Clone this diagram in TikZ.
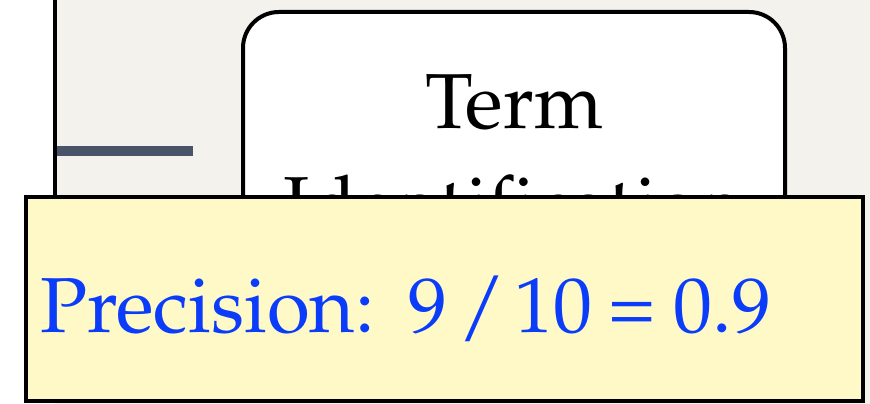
\documentclass[tikz,border=0pt]{standalone}
\usepackage[T1]{fontenc}
\usepackage{xcolor}
\usepackage{mathpazo}
\usepackage{tikz}
\usetikzlibrary{positioning}

\definecolor{paperGray}{HTML}{F4F2ED}
\definecolor{slateBar}{HTML}{4A5468}
\definecolor{noteYellow}{HTML}{FEF9C6}
\definecolor{scoreBlue}{HTML}{0B3CFA}

\begin{document}
\begin{tikzpicture}[
    x=1pt,
    y=-1pt,
    font=\fontsize{78}{103}\selectfont,
    process/.style={
        draw,
        rounded corners=36pt,
        line width=4pt,
        fill=white,
        minimum width=542pt,
        align=center,
        inner xsep=0pt,
        inner ysep=0pt,
        outer sep=0pt
    },
    note/.style={
        draw,
        line width=4pt,
        fill=noteYellow,
        text=scoreBlue,
        minimum width=837pt,
        text width=809pt,
        align=left,
        inner xsep=14pt,
        inner ysep=0pt,
        outer sep=0pt
    },
    rail/.style={
        line width=4pt
    },
    link/.style={
        draw=slateBar,
        line width=10pt
    }
]

%------------------------------------------------------------------------------
% Canvas
%------------------------------------------------------------------------------

\useasboundingbox[fill=white] (0,0) rectangle (870,404);
\fill[paperGray] (55,0) rectangle (870,404);

%------------------------------------------------------------------------------
% Rail and link stub
%------------------------------------------------------------------------------

\coordinate (railTop) at (55,-5);
\coordinate (railBottom) at (55,200);
\draw[rail] (railTop) -- (railBottom);

\coordinate (linkStart) at (57,151);
\coordinate (linkEnd) at (193,151);
\draw[link] (linkStart) -- (linkEnd);

%------------------------------------------------------------------------------
% Process box
%------------------------------------------------------------------------------

\node[
    process,
    anchor=north,
    text height=219pt,
    text depth=149pt
] (termId) at (514,12) {
    Term\\
    Identification
};

%------------------------------------------------------------------------------
% Score note
%------------------------------------------------------------------------------

\node[
    note,
    anchor=north west,
    text height=135pt,
    text depth=69pt
] (precision) at (26,197) {
    Precision:\hspace{34pt}9\kern10pt$/$\kern8pt10\kern-10pt{} =\hspace{-8pt} 0.9
};

\end{tikzpicture}
\end{document}
